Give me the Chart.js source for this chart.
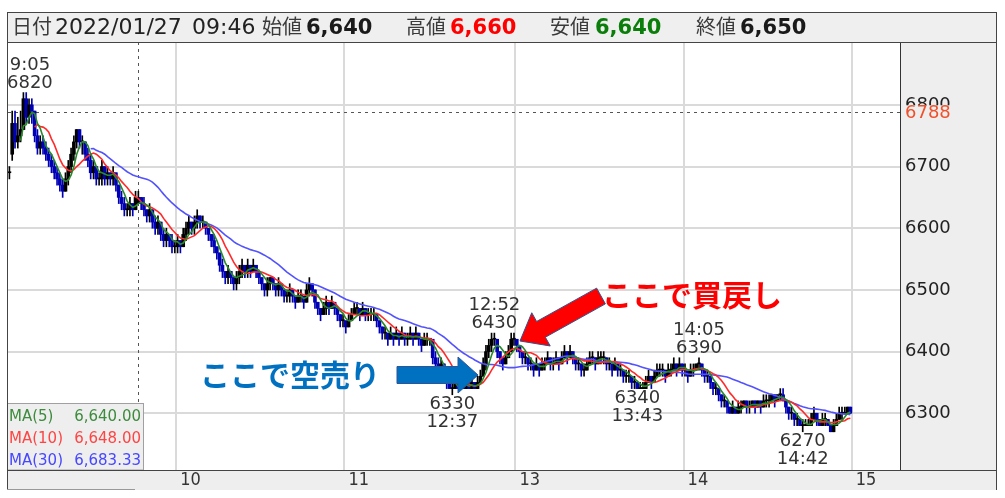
<!DOCTYPE html>
<html><head><meta charset="utf-8">
<script src="https://cdn.jsdelivr.net/npm/chart.js@4.4.1/dist/chart.umd.min.js"></script>
<style>html,body{margin:0;padding:0;background:#fff;}canvas{display:block;}</style>
</head><body>
<canvas id="c" width="1005" height="498"></canvas>
<script>
// ---------- data ----------
const tradeDate = '2022/01/27';
const cursorTime = '09:46';
const cursorBar = 46;
const cursorPrice = 6788;
const tickSlots = [60, 120, 181, 241, 301];
const tickLabels = ['10', '11', '13', '14', '15'];
const priceTicks = [6300, 6400, 6500, 6600, 6700, 6800];
const maPeriods = [5, 10, 30];

const opens = [
6690,6720,6770,6740,6750,6760,6810,6780,6800,6790,
6750,6730,6740,6730,6720,6710,6700,6690,6680,6670,
6660,6680,6700,6720,6740,6760,6740,6740,6720,6710,
6690,6700,6680,6680,6700,6680,6690,6680,6690,6670,
6650,6640,6630,6630,6640,6630,6640,6650,6640,6630,
6620,6630,6610,6600,6610,6590,6580,6590,6580,6570,
6570,6580,6570,6590,6600,6610,6600,6610,6620,6610,
6610,6600,6590,6580,6570,6560,6540,6530,6520,6530,
6520,6510,6520,6530,6540,6530,6540,6530,6540,6530,
6520,6510,6500,6510,6520,6510,6500,6510,6500,6490,
6490,6500,6490,6480,6490,6490,6480,6500,6510,6500,
6480,6470,6460,6470,6480,6470,6480,6470,6460,6450,
6450,6440,6450,6460,6470,6470,6460,6470,6460,6460,
6460,6460,6450,6440,6430,6430,6420,6430,6420,6430,
6420,6430,6420,6420,6430,6420,6430,6420,6410,6420,6420,
6420,6390,6380,6370,6380,6370,6350,6340,6340,6350,
6340,6350,6340,6350,6340,6350,6340,6350,6360,6380,
6400,6410,6420,6420,6400,6390,6380,6390,6400,6420,
6420,6410,6400,6390,6390,6380,6380,6370,6380,6370,
6380,6380,6390,6380,6380,6390,6380,6390,6400,6390,
6400,6390,6380,6380,6370,6370,6380,6390,6390,6380,
6390,6390,6390,6380,6380,6370,6380,6370,6370,6360,
6360,6360,6350,6350,6340,6340,6340,6350,6360,6350,
6360,6370,6370,6370,6360,6370,6370,6380,6370,6380,
6370,6370,6360,6370,6370,6380,6380,6370,6360,6360,
6350,6340,6340,6330,6320,6320,6310,6300,6310,6300,
6310,6310,6320,6310,6310,6320,6310,6320,6310,6320,
6320,6320,6330,6320,6330,6330,6320,6310,6300,6300,
6290,6290,6280,6280,6280,6280,6290,6300,6290,6280,
6290,6290,6280,6270,6280,6290,6300,6300,6300,6310
];
const highs = [
6700,6790,6790,6780,6790,6820,6820,6810,6810,6790,
6760,6750,6750,6740,6730,6720,6710,6700,6690,6680,
6690,6710,6730,6750,6760,6760,6750,6740,6730,6720,
6710,6700,6690,6710,6700,6700,6690,6700,6690,6670,
6660,6650,6640,6650,6640,6660,6660,6650,6650,6630,
6640,6630,6620,6620,6610,6600,6600,6590,6590,6580,
6590,6580,6600,6610,6620,6610,6620,6630,6620,6620,
6610,6600,6590,6590,6570,6560,6550,6530,6540,6530,
6520,6530,6540,6550,6540,6550,6540,6550,6540,6530,
6520,6510,6520,6520,6520,6510,6520,6510,6500,6500,
6510,6500,6490,6500,6500,6490,6510,6520,6510,6500,
6480,6470,6480,6490,6480,6490,6480,6470,6460,6460,
6450,6460,6470,6480,6480,6470,6480,6470,6470,6470,
6470,6460,6450,6440,6440,6430,6440,6430,6440,6430,
6440,6430,6430,6440,6430,6440,6430,6420,6430,6430,6420,
6420,6400,6390,6390,6380,6370,6360,6350,6360,6350,
6360,6350,6360,6350,6360,6350,6360,6370,6390,6410,
6420,6430,6430,6420,6400,6390,6400,6410,6430,6430,
6420,6410,6400,6400,6390,6390,6380,6390,6380,6390,
6390,6400,6390,6390,6400,6390,6400,6410,6400,6410,
6400,6390,6390,6380,6380,6390,6400,6400,6390,6400,
6400,6400,6390,6390,6380,6390,6380,6380,6370,6370,
6370,6360,6360,6350,6350,6350,6360,6370,6360,6370,
6380,6380,6380,6370,6380,6380,6390,6380,6390,6380,
6380,6370,6380,6380,6380,6390,6380,6370,6370,6360,
6350,6350,6340,6330,6330,6320,6310,6320,6310,6320,
6320,6320,6320,6320,6320,6320,6320,6320,6330,6330,
6330,6330,6330,6330,6340,6340,6320,6310,6310,6300,
6300,6290,6290,6290,6290,6300,6310,6300,6290,6300,
6300,6290,6280,6290,6300,6310,6310,6310,6310,6310
];
const lows = [
6680,6710,6730,6730,6740,6760,6770,6770,6770,6740,
6720,6720,6720,6710,6700,6690,6680,6670,6660,6650,
6660,6670,6690,6710,6730,6730,6720,6710,6700,6680,
6680,6670,6670,6670,6670,6670,6670,6670,6660,6640,
6630,6620,6620,6620,6620,6630,6640,6630,6620,6610,
6610,6600,6590,6590,6580,6570,6570,6570,6560,6560,
6560,6560,6570,6580,6590,6590,6590,6600,6600,6600,
6590,6580,6570,6560,6550,6530,6520,6510,6510,6510,
6500,6500,6510,6520,6520,6520,6520,6530,6520,6510,
6500,6490,6490,6500,6500,6490,6490,6490,6480,6480,
6480,6480,6470,6480,6480,6470,6480,6490,6490,6470,
6460,6450,6460,6460,6460,6470,6460,6450,6440,6440,
6430,6440,6450,6460,6460,6450,6460,6450,6450,6450,
6450,6440,6430,6420,6420,6410,6420,6410,6420,6410,
6420,6410,6410,6420,6410,6420,6410,6400,6410,6410,6410,
6380,6370,6360,6370,6360,6340,6340,6330,6340,6340,
6340,6340,6340,6340,6340,6340,6340,6350,6360,6370,
6390,6400,6410,6390,6380,6370,6380,6390,6400,6410,
6400,6390,6380,6380,6370,6370,6360,6370,6360,6370,
6370,6380,6370,6370,6380,6370,6380,6390,6380,6390,
6380,6370,6370,6360,6360,6370,6380,6380,6370,6380,
6380,6380,6370,6370,6360,6370,6360,6360,6350,6350,
6350,6340,6340,6340,6340,6340,6340,6350,6340,6350,
6360,6360,6360,6350,6360,6360,6370,6360,6370,6360,
6360,6350,6360,6360,6370,6370,6360,6350,6350,6340,
6330,6330,6320,6310,6310,6300,6300,6300,6300,6300,
6300,6310,6300,6300,6310,6300,6310,6300,6310,6310,
6310,6320,6310,6320,6320,6320,6300,6290,6290,6280,
6280,6280,6270,6280,6280,6280,6290,6280,6280,6280,
6280,6280,6270,6270,6280,6290,6290,6300,6300,6300
];
const closes = [
6690,6770,6740,6750,6760,6810,6780,6800,6790,6750,
6730,6740,6730,6720,6710,6700,6690,6680,6670,6660,
6680,6700,6720,6740,6760,6740,6740,6720,6710,6690,
6700,6680,6680,6700,6680,6690,6680,6690,6670,6650,
6640,6630,6630,6640,6630,6650,6650,6640,6630,6620,
6630,6610,6600,6610,6590,6580,6590,6580,6570,6570,
6580,6570,6590,6600,6610,6600,6610,6620,6610,6610,
6600,6590,6580,6570,6560,6540,6530,6520,6530,6520,
6510,6520,6530,6540,6530,6540,6530,6540,6530,6520,
6510,6500,6510,6520,6510,6500,6510,6500,6490,6490,
6500,6490,6480,6490,6490,6480,6500,6510,6500,6480,
6470,6460,6470,6480,6470,6480,6470,6460,6450,6450,
6440,6450,6460,6470,6470,6460,6470,6460,6460,6460,
6460,6450,6440,6430,6430,6420,6430,6420,6430,6420,
6430,6420,6420,6430,6420,6430,6420,6410,6420,6420,6420,
6390,6380,6370,6380,6370,6350,6340,6340,6350,6340,
6350,6340,6350,6340,6350,6340,6350,6360,6380,6400,
6410,6420,6420,6400,6390,6380,6390,6400,6420,6420,
6410,6400,6390,6390,6380,6380,6370,6380,6370,6380,
6380,6390,6380,6380,6390,6380,6390,6400,6390,6400,
6390,6380,6380,6370,6370,6380,6390,6390,6380,6390,
6390,6390,6380,6380,6370,6380,6370,6370,6360,6360,
6360,6350,6350,6340,6340,6340,6350,6360,6350,6360,
6370,6370,6370,6360,6370,6370,6380,6370,6380,6370,
6370,6360,6370,6370,6380,6380,6370,6360,6360,6350,
6340,6340,6330,6320,6320,6310,6300,6310,6300,6310,
6310,6320,6310,6310,6320,6310,6320,6310,6320,6320,
6320,6330,6320,6330,6330,6320,6310,6300,6300,6290,
6290,6280,6280,6280,6280,6290,6300,6290,6280,6290,
6290,6280,6270,6280,6290,6300,6300,6300,6310,6300
];
const callouts = [
  {bar: 5, side: 'high', time: '9:05'},
  {bar: 173, side: 'high', time: '12:52'},
  {bar: 158, side: 'low', time: '12:37'},
  {bar: 224, side: 'low', time: '13:43'},
  {bar: 246, side: 'high', time: '14:05'},
  {bar: 283, side: 'low', time: '14:42'}
];

// ---------- derived ----------
function movingAverage(src, n) {
  return src.map((_, i) => {
    if (i < n - 1) return null;
    let s = 0;
    for (let k = i - n + 1; k <= i; k++) s += src[k];
    return s / n;
  });
}
const maValues = maPeriods.map(n => movingAverage(closes, n));
const slot = i => i + 0.5;
const bodyData = closes.map((c, i) => ({x: slot(i), y: [opens[i], c]}));
const wickData = closes.map((c, i) => ({x: slot(i), y: [lows[i], highs[i]]}));
const maData = maValues.map(arr => arr.map((v, i) => ({x: slot(i), y: v})));

const fmt = v => v.toLocaleString('en-US');
const fmt2 = v => v.toLocaleString('en-US', {minimumFractionDigits: 2, maximumFractionDigits: 2});

const maColors = ['#2a8a2a', '#ff2a2a', '#5252ff'];
const maTextColors = ['#3d8b3d', '#ff4444', '#4747ff'];
const UP = '#000000', DOWN = '#0000b4';
const candleColor = ctx => closes[ctx.dataIndex] >= opens[ctx.dataIndex] ? UP : DOWN;
const CJK = '"Noto Sans CJK JP", sans-serif';
const LAT = '"DejaVu Sans", sans-serif';

function drawArrow(c, x0, y0, x1, y1, bw, hw, hl, fill, stroke) {
  const dx = x1 - x0, dy = y1 - y0, len = Math.hypot(dx, dy);
  const ux = dx / len, uy = dy / len, nx = -uy, ny = ux;
  const bx = x1 - ux * hl, by = y1 - uy * hl;
  const pts = [
    [x0 + nx * bw, y0 + ny * bw], [bx + nx * bw, by + ny * bw], [bx + nx * hw, by + ny * hw],
    [x1, y1], [bx - nx * hw, by - ny * hw], [bx - nx * bw, by - ny * bw], [x0 - nx * bw, y0 - ny * bw]
  ];
  c.beginPath();
  pts.forEach((p, k) => k ? c.lineTo(p[0], p[1]) : c.moveTo(p[0], p[1]));
  c.closePath();
  c.fillStyle = fill; c.fill();
  c.lineWidth = 1; c.strokeStyle = stroke; c.stroke();
}

const framePlugin = {
  id: 'frame',
  beforeDraw(chart) {
    const c = chart.ctx, a = chart.chartArea;
    c.save();
    c.fillStyle = '#ffffff'; c.fillRect(0, 0, 1005, 498);
    c.fillStyle = '#efefef'; c.fillRect(7, 12, 990, 30);
    c.fillStyle = '#eeeeee';
    c.fillRect(a.right, a.top, 997 - a.right, a.bottom - a.top);
    c.fillRect(7, a.bottom, 990, 20);
    c.restore();
  },
  beforeDatasetsDraw(chart) {
    const c = chart.ctx, a = chart.chartArea, xs = chart.scales.x, ys = chart.scales.y;
    c.save();
    c.strokeStyle = '#555'; c.lineWidth = 1; c.setLineDash([3, 4]);
    const vx = Math.round(xs.getPixelForValue(slot(cursorBar))) + 0.5;
    c.beginPath(); c.moveTo(vx, a.top); c.lineTo(vx, a.bottom); c.stroke();
    const hy = Math.round(ys.getPixelForValue(cursorPrice)) + 0.5;
    c.beginPath(); c.moveTo(a.left, hy); c.lineTo(a.right, hy); c.stroke();
    c.restore();
  },
  afterDatasetsDraw(chart) {
    const c = chart.ctx, a = chart.chartArea, xs = chart.scales.x, ys = chart.scales.y;
    c.save();
    // callouts
    c.font = '18px ' + LAT; c.fillStyle = '#333'; c.textAlign = 'center'; c.textBaseline = 'alphabetic';
    callouts.forEach(co => {
      const val = co.side === 'high' ? highs[co.bar] : lows[co.bar];
      const py = ys.getPixelForValue(val);
      let px = xs.getPixelForValue(slot(co.bar));
      const w = Math.max(c.measureText(String(val)).width, c.measureText(co.time).width);
      px = Math.max(px, a.left + w / 2 - 1);
      if (co.side === 'high') {
        c.fillText(String(val), px, py - 5);
        c.fillText(co.time, px, py - 23);
      } else {
        c.fillText(String(val), px, py + 14);
        c.fillText(co.time, px, py + 32);
      }
    });
    // arrows
    drawArrow(c, 397, 375, 478, 375, 8.5, 18, 20, '#0070c0', '#2f5597');
    drawArrow(c, 601, 296, 520, 341, 9, 19, 24, '#ff0000', '#2f528f');
    // notes
    c.textAlign = 'left'; c.textBaseline = 'middle';
    c.font = 'bold 30px ' + CJK;
    c.fillStyle = '#0070c0'; c.fillText('ここで空売り', 200, 375);
    c.fillStyle = '#ff0000'; c.fillText('ここで買戻し', 602, 295);
    // MA legend box
    c.fillStyle = '#eeeeee'; c.fillRect(7.5, 403.5, 136, 66.5);
    c.strokeStyle = '#a0a0a0'; c.lineWidth = 1; c.strokeRect(7.5, 403.5, 136, 66.5);
    c.font = '15px ' + LAT; c.textBaseline = 'alphabetic';
    const rowsY = [421, 443, 464.5];
    maPeriods.forEach((n, k) => {
      c.fillStyle = maTextColors[k];
      c.textAlign = 'left'; c.fillText('MA(' + n + ')', 9, rowsY[k]);
      c.textAlign = 'right'; c.fillText(fmt2(maValues[k][cursorBar]), 141, rowsY[k]);
    });
    // cursor price label on axis
    const hy = ys.getPixelForValue(cursorPrice);
    c.fillStyle = '#eeeeee'; c.fillRect(a.right + 1, hy - 7, 95, 16);
    c.fillStyle = '#f0502a'; c.font = '18px ' + LAT; c.textAlign = 'left'; c.textBaseline = 'middle';
    c.fillText(String(cursorPrice), a.right + 5, hy + 1);
    c.restore();
  },
  afterDraw(chart) {
    const c = chart.ctx, a = chart.chartArea;
    c.save();
    c.strokeStyle = '#444'; c.lineWidth = 1;
    c.strokeRect(7.5, 12.5, 989, 30);
    c.beginPath();
    c.moveTo(7.5, 12); c.lineTo(7.5, 490);
    c.moveTo(996.5, 12); c.lineTo(996.5, 490);
    c.moveTo(7, a.bottom + 0.5); c.lineTo(997, a.bottom + 0.5);
    c.stroke();
    c.strokeStyle = '#999';
    c.beginPath(); c.moveTo(7, 489.5); c.lineTo(135, 489.5); c.stroke();
    // header text
    c.textBaseline = 'alphabetic'; c.textAlign = 'left';
    const hb = 34;
    const lab = (t, x) => { c.font = '20px ' + CJK; c.fillStyle = '#3a3a3a'; c.fillText(t, x, hb); };
    const num = (t, x, col) => { c.font = 'bold 21px ' + LAT; c.fillStyle = col; c.fillText(t, x, hb); };
    lab('日付', 12);
    c.font = '22px ' + LAT; c.fillStyle = '#222';
    c.fillText(tradeDate, 55, hb); c.fillText(cursorTime, 192, hb);
    lab('始値', 262); num(fmt(opens[cursorBar]), 306, '#1a1a1a');
    lab('高値', 406); num(fmt(highs[cursorBar]), 450, '#ff0000');
    lab('安値', 550); num(fmt(lows[cursorBar]), 595, '#0b7d0b');
    lab('終値', 696); num(fmt(closes[cursorBar]), 740, '#1a1a1a');
    c.restore();
  }
};

new Chart(document.getElementById('c'), {
  type: 'bar',
  data: {
    datasets: [
      {type: 'line', data: maData[0], borderColor: maColors[0], borderWidth: 1.6, pointRadius: 0, tension: 0, order: 0},
      {type: 'line', data: maData[1], borderColor: maColors[1], borderWidth: 1.6, pointRadius: 0, tension: 0, order: 1},
      {type: 'line', data: maData[2], borderColor: maColors[2], borderWidth: 1.6, pointRadius: 0, tension: 0, order: 2},
      {type: 'bar', data: bodyData, grouped: false, barThickness: 3, minBarLength: 1, borderWidth: 0,
        backgroundColor: candleColor, order: 3},
      {type: 'bar', data: wickData, grouped: false, barThickness: 1, minBarLength: 1, borderWidth: 0,
        backgroundColor: candleColor, order: 4}
    ]
  },
  options: {
    responsive: false, animation: false, devicePixelRatio: 1,
    layout: {padding: {left: 8, top: 42, right: 8, bottom: 8}},
    plugins: {legend: {display: false}, tooltip: {enabled: false}},
    scales: {
      x: {
        type: 'linear', min: 0, max: 318.2, offset: false,
        grid: {offset: false, color: '#dadada', lineWidth: 2, drawTicks: false},
        border: {display: true, color: '#333', width: 1},
        ticks: {autoSkip: false, maxRotation: 0, align: 'start', labelOffset: 4, padding: 0, color: '#333',
          font: {family: '"Liberation Sans Narrow", "DejaVu Sans Condensed", "Liberation Sans"', size: 18},
          callback: (v, i) => tickLabels[i]},
        afterBuildTicks: s => { s.ticks = tickSlots.map(v => ({value: v})); },
        afterFit: s => { s.height = 20; }
      },
      y: {
        type: 'linear', position: 'right', min: 6208, max: 6902,
        grid: {color: '#dadada', lineWidth: 2, drawTicks: false},
        border: {display: true, color: '#333', width: 1},
        ticks: {padding: 5, color: '#222', font: {family: '"DejaVu Sans"', size: 18}, callback: v => String(v)},
        afterBuildTicks: s => { s.ticks = priceTicks.map(v => ({value: v})); },
        afterFit: s => { s.width = 97; }
      }
    }
  },
  plugins: [framePlugin]
});
</script>
</body></html>
